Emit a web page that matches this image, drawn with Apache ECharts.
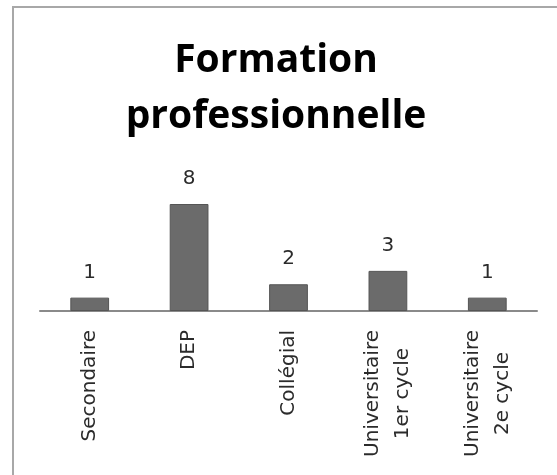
<!DOCTYPE html>
<html>
<head>
<meta charset="utf-8">
<script src="https://cdn.jsdelivr.net/npm/echarts@6/dist/echarts.min.js"></script>
<style>
  html, body { margin: 0; padding: 0; background: #ffffff; }
  #chart { width: 557px; height: 475px; }
</style>
</head>
<body>
<div id="chart"></div>
<script>
// Niveaux de scolarité et nombre de répondants
const categories = ['Secondaire', 'DEP', 'Collégial', 'Universitaire\n1er cycle', 'Universitaire\n2e cycle'];
const values = [1, 8, 2, 3, 1];
const chartTitle = 'Formation\nprofessionnelle';

const chart = echarts.init(document.getElementById('chart'), null, { renderer: 'canvas' });

chart.setOption({
  backgroundColor: '#ffffff',
  animation: false,
  graphic: [{
    type: 'rect',
    shape: { x: 13, y: 7, width: 600, height: 520 },
    style: { fill: 'none', stroke: '#a8a8a8', lineWidth: 2 },
    silent: true
  }],
  title: {
    text: chartTitle,
    left: 271,
    top: 28,
    textAlign: 'center',
    textStyle: {
      fontFamily: 'Open Sans',
      fontWeight: 'bold',
      fontSize: 39,
      lineHeight: 56,
      color: '#000000'
    }
  },
  grid: { left: 40, right: 20, top: 204, bottom: 164, containLabel: false },
  xAxis: {
    type: 'category',
    data: categories,
    axisLine: { lineStyle: { color: '#8a8a8a', width: 2 } },
    axisTick: { show: false },
    axisLabel: {
      rotate: 90,
      interval: 0,
      margin: 19,
      fontFamily: 'DejaVu Sans',
      fontSize: 20,
      lineHeight: 30,
      color: '#2b2b2b',
      formatter: function (v) {
        return v.split('\n').map(function (s) { return '{c|' + s + '}'; }).join('\n');
      },
      rich: {
        c: { align: 'center', fontFamily: 'DejaVu Sans', fontSize: 20, lineHeight: 30, color: '#2b2b2b' }
      }
    }
  },
  yAxis: {
    type: 'value',
    min: 0,
    max: 8,
    show: false,
    splitLine: { show: false }
  },
  series: [{
    type: 'bar',
    data: values,
    barWidth: '39%',
    itemStyle: { color: '#6b6b6b', borderColor: '#555555', borderWidth: 1 },
    label: {
      show: true,
      position: 'top',
      distance: 15,
      fontFamily: 'DejaVu Sans',
      fontSize: 20,
      color: '#2b2b2b'
    }
  }]
});
</script>
</body>
</html>
